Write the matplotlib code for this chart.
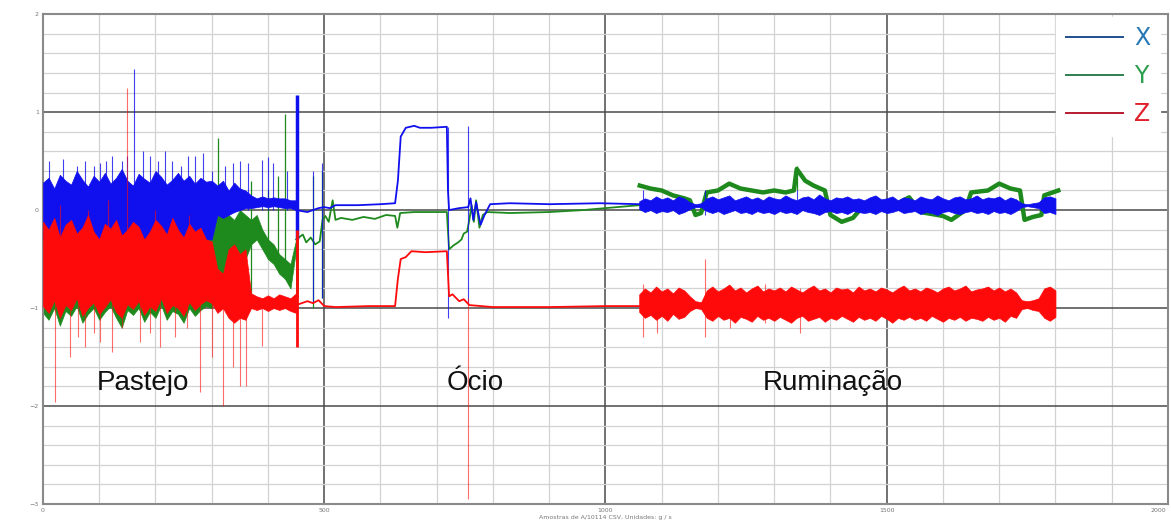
import matplotlib
matplotlib.use("Agg")
import matplotlib.pyplot as plt
from matplotlib.lines import Line2D
from matplotlib.ticker import MultipleLocator, FuncFormatter

# ---- data (sample index vs. acceleration) ----
# Pastejo: min/max envelopes of the dense signal, sampled every 10 samples (0..450)
PAST_X = list(range(0, 460, 10))
X_PAST_HI = [0.28, 0.33, 0.22, 0.36, 0.3, 0.26, 0.4, 0.31, 0.24, 0.35, 0.29, 0.38, 0.27, 0.33, 0.42,
             0.3, 0.25, 0.37, 0.32, 0.28, 0.4, 0.34, 0.26, 0.31, 0.38, 0.3, 0.35, 0.27, 0.33, 0.29, 0.3,
             0.25, 0.3, 0.2, 0.28, 0.22, 0.2, 0.15, 0.12, 0.14, 0.12, 0.13, 0.12, 0.12, 0.1, 0.1]
X_PAST_LO = [-0.3, -0.35, -0.3, -0.32, -0.35, -0.3, -0.33, -0.3, -0.35, -0.3, -0.32, -0.3, -0.35,
             -0.3, -0.33, -0.3, -0.35, -0.3, -0.32, -0.3, -0.35, -0.3, -0.33, -0.3, -0.35, -0.3,
             -0.32, -0.3, -0.35, -0.3, -0.3,
             -0.05, -0.08, -0.05, -0.02, 0.0, 0.02, 0.02, 0.03, 0.04, 0.03, 0.04, 0.03, 0.02, 0.02, 0.0]
Y_PAST_HI = [-0.3] * 31 + [-0.05, 0.0, -0.05, -0.1, 0.0, -0.05, -0.1, -0.05, -0.2, -0.3, -0.35,
                           -0.45, -0.5, -0.55, -0.3]
Y_PAST_LO = [-1.05, -1.12, -1.0, -1.18, -1.03, -1.08, -0.98, -1.15, -1.06, -1.0, -1.12, -1.04,
             -0.98, -1.1, -1.2, -1.02, -1.07, -1.0, -1.14, -1.04, -1.1, -0.97, -1.12, -1.03, -1.06,
             -1.15, -1.0, -1.08, -1.02, -0.98, -1.0,
             -0.85, -0.8, -0.9, -0.75, -0.85, -0.5, -0.35, -0.3, -0.4, -0.5, -0.55, -0.65, -0.7, -0.8, -0.4]
Z_PAST_HI = [-0.12, -0.2, -0.08, -0.28, -0.15, -0.1, -0.24, -0.18, -0.05, -0.22, -0.3, -0.14, -0.19,
             -0.1, -0.26, -0.2, -0.12, -0.17, -0.3, -0.22, -0.1, -0.16, -0.25, -0.08, -0.2, -0.28,
             -0.14, -0.22, -0.18, -0.3, -0.32,
             -0.6, -0.65, -0.4, -0.35, -0.45, -0.4, -0.85, -0.88, -0.9, -0.87, -0.9, -0.86, -0.88, -0.9, -0.85]
Z_PAST_LO = [-0.98, -1.05, -0.92, -1.1, -0.97, -1.02, -0.9, -1.08, -1.0, -0.94, -1.06, -0.99, -0.91,
             -1.04, -1.1, -0.96, -1.01, -0.93, -1.07, -0.98, -1.03, -0.9, -1.05, -0.97, -1.0, -1.08,
             -0.94, -1.02, -0.96, -0.92, -0.95,
             -1.05, -1.0, -1.1, -1.15, -1.1, -1.12, -1.0, -1.02, -1.0, -1.03, -1.0, -1.02, -1.0, -1.03, -1.05]

# Ocio: slow signals, breakpoints
X_OCIO_X = [450, 470, 480, 490, 500, 510, 520, 560, 600, 626, 631, 636, 645, 660, 670, 690, 718, 720,
            722, 740, 756, 760, 765, 770, 778, 785, 795, 830, 900, 990, 1061]
X_OCIO_Y = [0.0, -0.02, 0.0, 0.02, 0.03, 0.02, 0.05, 0.05, 0.06, 0.07, 0.3, 0.75, 0.84, 0.86, 0.84,
            0.84, 0.85, 0.2, 0.0, 0.02, 0.03, 0.12, -0.1, 0.08, -0.15, -0.05, 0.06, 0.07, 0.06, 0.07, 0.06]
Y_OCIO_X = [450, 462, 468, 476, 484, 492, 497, 502, 508, 515, 520, 530, 550, 570, 590, 610, 626, 630,
            635, 660, 700, 718, 722, 730, 738, 744, 748, 754, 758, 762, 766, 770, 776, 782, 790, 830,
            900, 960, 1000, 1040, 1061]
Y_OCIO_Y = [-0.3, -0.25, -0.33, -0.28, -0.35, -0.32, -0.1, -0.06, -0.12, 0.1, -0.1, -0.08, -0.1,
            -0.07, -0.09, -0.05, -0.06, -0.18, -0.03, -0.02, -0.02, -0.02, -0.4, -0.36, -0.33, -0.3,
            -0.24, -0.22, -0.1, 0.05, -0.12, 0.1, -0.18, -0.05, -0.02, -0.03, -0.02, 0.0, 0.02, 0.04, 0.05]
Z_OCIO_X = [450, 470, 480, 490, 500, 520, 580, 626, 631, 636, 645, 655, 680, 718, 722, 728, 740, 748,
            758, 800, 900, 1000, 1061]
Z_OCIO_Y = [-0.97, -0.93, -0.95, -0.92, -0.98, -0.99, -0.98, -0.98, -0.7, -0.5, -0.48, -0.42, -0.43,
            -0.42, -0.88, -0.86, -0.93, -0.91, -0.97, -0.99, -0.99, -0.98, -0.98]

# Ruminacao: envelopes every 10 samples (1060..1800)
RUM_X = list(range(1060, 1810, 10))
X_RUM_HI = [0.09, 0.12, 0.1, 0.14, 0.11, 0.13, 0.1, 0.14, 0.12, 0.08,
            0.06, 0.07, 0.12,
            0.14, 0.11, 0.13, 0.15, 0.1, 0.12, 0.14, 0.11, 0.13, 0.1, 0.14, 0.12,
            0.11, 0.15, 0.12, 0.1, 0.13, 0.14, 0.11, 0.16, 0.12, 0.1, 0.13, 0.12,
            0.14, 0.11, 0.12, 0.1, 0.13, 0.15, 0.11, 0.12, 0.14, 0.1, 0.13, 0.12,
            0.1, 0.14, 0.12, 0.11, 0.15, 0.12, 0.1, 0.13, 0.14, 0.11, 0.12, 0.15,
            0.11, 0.13, 0.12, 0.14, 0.1, 0.13, 0.11,
            0.07, 0.06, 0.07, 0.08,
            0.13, 0.14, 0.12]
X_RUM_LO = [0.01, -0.02, 0.0, -0.03, -0.01, -0.02, 0.0, -0.04, -0.02, 0.01,
            0.03, 0.03, -0.01,
            -0.03, -0.01, -0.04, -0.02, 0.0, -0.03, -0.02, -0.04, -0.01, -0.03, -0.02, -0.04,
            -0.01, -0.03, -0.02, -0.04, 0.0, -0.02, -0.03, -0.05, -0.02, -0.01, -0.03, -0.02,
            -0.04, -0.01, -0.02, -0.03, -0.02, -0.04, -0.01, -0.03, -0.02, 0.0, -0.03, -0.02,
            -0.01, -0.04, -0.02, -0.03, -0.05, -0.02, -0.01, -0.03, -0.04, -0.02, -0.01, -0.03,
            -0.02, -0.04, -0.01, -0.03, -0.02, -0.04, -0.01,
            0.03, 0.04, 0.03, 0.02,
            -0.03, -0.02, -0.04]
Z_RUM_HI = [-0.86, -0.8, -0.84, -0.78, -0.83, -0.8, -0.85, -0.79, -0.82, -0.88,
            -0.93, -0.94, -0.82,
            -0.78, -0.83, -0.8, -0.76, -0.82, -0.79, -0.84, -0.8, -0.77, -0.83, -0.8, -0.82,
            -0.79, -0.83, -0.78, -0.81, -0.84, -0.8, -0.77, -0.82, -0.8, -0.84, -0.79, -0.81,
            -0.8, -0.84, -0.78, -0.82, -0.8, -0.83, -0.79, -0.81, -0.84, -0.8, -0.77, -0.82,
            -0.8, -0.83, -0.79, -0.81, -0.84, -0.8, -0.78, -0.82, -0.8, -0.77, -0.83, -0.81,
            -0.8, -0.78, -0.82, -0.79, -0.83, -0.8, -0.84,
            -0.92, -0.93, -0.92, -0.9,
            -0.8, -0.78, -0.82]
Z_RUM_LO = [-1.04, -1.1, -1.07, -1.12, -1.08, -1.13, -1.06, -1.11, -1.09, -1.03,
            -1.0, -1.01, -1.1,
            -1.13, -1.08, -1.12, -1.1, -1.15, -1.09, -1.11, -1.14, -1.08, -1.12, -1.1, -1.13,
            -1.09, -1.12, -1.15, -1.1, -1.08, -1.13, -1.11, -1.09, -1.14, -1.1, -1.12, -1.08,
            -1.11, -1.14, -1.09, -1.12, -1.1, -1.13, -1.08, -1.11, -1.15, -1.1, -1.12, -1.09,
            -1.12, -1.1, -1.13, -1.08, -1.11, -1.14, -1.1, -1.12, -1.09, -1.13, -1.1, -1.11,
            -1.13, -1.09, -1.12, -1.1, -1.14, -1.08, -1.1,
            -1.01, -1.0, -1.02, -1.03,
            -1.1, -1.13, -1.09]
Y_RUM_X = [1061, 1080, 1100, 1120, 1140, 1150, 1160, 1170, 1180, 1200, 1220, 1240, 1260, 1280, 1300,
           1320, 1335, 1340, 1355, 1370, 1390, 1400, 1420, 1440, 1455, 1480, 1500, 1520, 1540, 1560,
           1580, 1600, 1615, 1640, 1650, 1680, 1700, 1720, 1737, 1745, 1760, 1775, 1780, 1805]
Y_RUM_Y = [0.25, 0.22, 0.2, 0.15, 0.12, 0.1, -0.05, -0.03, 0.18, 0.2, 0.27, 0.22, 0.2, 0.18, 0.2,
           0.18, 0.2, 0.42, 0.3, 0.25, 0.2, -0.05, -0.12, -0.08, 0.02, 0.05, 0.05, 0.07, 0.13, -0.02,
           -0.04, -0.06, -0.1, 0.0, 0.18, 0.2, 0.27, 0.22, 0.2, -0.1, -0.07, -0.05, 0.15, 0.2]

# isolated spikes: position, bottom, top
X_SPIKE_X = [10, 35, 60, 75, 90, 101, 112, 123, 140, 150, 162, 178, 190, 205, 217, 230, 245, 258,
             270, 285, 300, 324, 338, 350, 364, 389, 400, 409, 434, 480, 496, 720, 756, 1067, 1177, 1340]
X_SPIKE_LO = [0.0] * 29 + [-0.95, -0.9, -1.1, -0.95, 0.0, -0.05, 0.0]
X_SPIKE_HI = [0.5, 0.52, 0.45, 0.5, 0.45, 0.48, 0.5, 0.55, 0.5, 0.55, 1.44, 0.6, 0.55, 0.5, 0.6, 0.5,
              0.45, 0.55, 0.55, 0.58, 0.4, 0.45, 0.48, 0.5, 0.48, 0.51, 0.54, 0.48, 0.4,
              0.4, 0.48, 0.85, 0.86, 0.2, 0.2, 0.2]
Y_SPIKE_X = [311, 370, 400, 418, 430, 480, 496, 1340]
Y_SPIKE_LO = [-0.5, -0.9, -0.5, -0.6, -0.7, -1.0, -0.9, 0.2]
Y_SPIKE_HI = [0.74, 0.3, 0.2, 0.35, 0.98, 0.35, 0.4, 0.45]
Z_SPIKE_X = [21, 30, 48, 62, 75, 80, 90, 101, 115, 123, 140, 149, 172, 190, 200, 208, 235, 256, 260,
             279, 300, 320, 338, 350, 361, 389, 756, 1067, 1092, 1177, 1221, 1284, 1346]
Z_SPIKE_LO = [-1.96, -0.3, -1.5, -1.3, -1.4, -0.3, -1.25, -1.35, -0.3, -1.45, -1.2, -0.3, -1.35,
              -1.25, -0.3, -1.4, -1.3, -1.2, -0.3, -1.86, -1.5, -2.0, -1.6, -1.8, -1.8, -1.39, -2.95,
              -1.3, -1.25, -1.3, -1.2, -1.15, -1.25]
Z_SPIKE_HI = [-0.9, 0.05, -0.9, -0.9, -0.9, 0.0, -0.9, -0.9, 0.1, -0.9, -0.9, 1.25, -0.9, -0.9, 0.0,
              -0.9, -0.9, -0.9, -0.05, -0.9, -0.9, -0.9, -0.9, -0.9, -0.9, -0.9, -0.9, -0.75, -0.8,
              -0.5, -0.78, -0.75, -0.8]
# the burst right before sample 500
BURST_X = [452]
X_BURST = (-0.3, 1.17)
Y_BURST = (-0.9, 0.92)
Z_BURST = (-1.4, -0.2)

PHASES = ["Pastejo", "Ócio", "Ruminação"]
PHASE_X = [178, 768, 1404]
PHASE_Y = -1.76

BLUE, GREEN, RED = "#1010ee", "#1e8a1e", "#ff0a0a"
TICK_GREY = "#777777"

fig = plt.figure(figsize=(11.71, 5.2), dpi=100)
ax = fig.add_axes([0.0367, 0.0308, 0.9607, 0.942])

# green first, blue over it, red on top
ax.fill_between(PAST_X, Y_PAST_LO, Y_PAST_HI, color=GREEN, lw=0.5, zorder=2)
ax.plot(Y_OCIO_X, Y_OCIO_Y, color=GREEN, lw=1.3, zorder=2)
ax.plot(Y_RUM_X, Y_RUM_Y, color=GREEN, lw=3.2, zorder=2)
ax.vlines(Y_SPIKE_X, Y_SPIKE_LO, Y_SPIKE_HI, color=GREEN, lw=0.9, zorder=2)
ax.vlines(BURST_X, *Y_BURST, color=GREEN, lw=2, zorder=2)

ax.fill_between(PAST_X, X_PAST_LO, X_PAST_HI, color=BLUE, lw=0.5, zorder=3)
ax.plot(X_OCIO_X, X_OCIO_Y, color=BLUE, lw=1.3, zorder=3)
ax.fill_between(RUM_X, X_RUM_LO, X_RUM_HI, color=BLUE, lw=0.5, zorder=3)
ax.vlines(X_SPIKE_X, X_SPIKE_LO, X_SPIKE_HI, color=BLUE, lw=0.8, alpha=0.8, zorder=3)
ax.vlines(BURST_X, *X_BURST, color=BLUE, lw=2.5, zorder=3)

ax.fill_between(PAST_X, Z_PAST_LO, Z_PAST_HI, color=RED, lw=0.5, zorder=4)
ax.plot(Z_OCIO_X, Z_OCIO_Y, color=RED, lw=1.3, zorder=4)
ax.fill_between(RUM_X, Z_RUM_LO, Z_RUM_HI, color=RED, lw=0.5, zorder=4)
ax.vlines(Z_SPIKE_X, Z_SPIKE_LO, Z_SPIKE_HI, color=RED, lw=0.8, alpha=0.6, zorder=4)
ax.vlines(BURST_X, *Z_BURST, color=RED, lw=2, zorder=4)

for name, px in zip(PHASES, PHASE_X):
    ax.text(px, PHASE_Y, name, ha="center", va="center", fontsize=20,
            family="Liberation Sans", color="#111111", zorder=6)

ax.set_xlim(0, 2000)
ax.set_ylim(-3, 2)
ax.xaxis.set_major_locator(MultipleLocator(500))
ax.xaxis.set_minor_locator(MultipleLocator(100))
ax.yaxis.set_major_locator(MultipleLocator(1))
ax.yaxis.set_minor_locator(MultipleLocator(0.2))
# the last x label is drawn separately so it stays inside the figure
ax.xaxis.set_major_formatter(FuncFormatter(lambda v, p: "" if v >= 2000 else f"{v:g}"))
ax.annotate("2000", xy=(1, 0), xycoords="axes fraction", xytext=(-1, -3),
            textcoords="offset points", ha="right", va="top", fontsize=4.5, color=TICK_GREY)
ax.set_axisbelow(True)
ax.grid(which="minor", color="#d2d2d2", lw=0.9)
ax.grid(which="major", color="#4a4a4a", lw=1.1)
ax.tick_params(which="both", length=0, labelsize=4.5, labelcolor=TICK_GREY, pad=3)
for s in ax.spines.values():
    s.set_color("#8a8a8a")
    s.set_linewidth(1.5)
ax.set_xlabel("Amostras de A/10114 CSV, Unidades: g / s", fontsize=4.5, color=TICK_GREY, labelpad=1)

handles = [Line2D([], [], color=c, lw=1.4) for c in ("#1f4f8f", "#2f7f4f", "#b81a30")]
leg = ax.legend(handles, ["X", "Y", "Z"], loc="upper right", bbox_to_anchor=(0.995, 1.0),
                fontsize=17, handlelength=2.4, handletextpad=0.5, labelspacing=0.6,
                frameon=True, fancybox=False, borderaxespad=0.1,
                labelcolor=["#2878b5", "#2e9e4f", "#e0202c"])
leg.get_frame().set_edgecolor("white")
leg.get_frame().set_facecolor("white")
leg.get_frame().set_alpha(1)
leg.set_zorder(7)

fig.savefig("out.png", dpi=100)
